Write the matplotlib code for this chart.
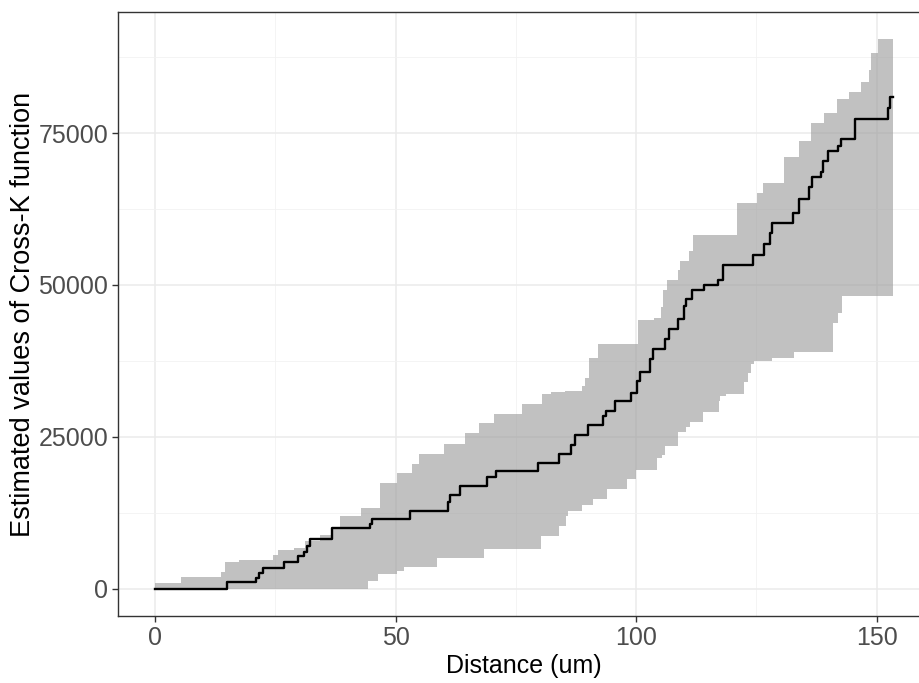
import numpy as np
import matplotlib
matplotlib.use("Agg")
import matplotlib.pyplot as plt
from matplotlib.ticker import FixedLocator

# step positions (distance) and value after each step
k_x = [0, 15.0, 21.1, 21.6, 22.4, 26.8, 29.8, 31.0, 31.6, 32.3, 36.7, 44.8, 45.2,
       53.0, 61.0, 61.3, 63.4, 69.0, 70.9, 79.6, 84.0, 86.4, 87.4, 89.9, 93.2,
       93.8, 95.7, 98.9, 100.2, 100.9, 102.8, 103.6, 106.1, 106.8, 108.7, 109.9,
       110.3, 111.7, 114.1, 117.0, 118.1, 124.3, 126.6, 127.8, 128.3, 132.6,
       133.8, 135.9, 136.6, 138.4, 138.8, 139.8, 141.9, 142.6, 145.5, 152.3, 152.8]
k_y = [0, 1040, 1760, 2580, 3400, 4330, 5310, 5970, 6960, 8170, 9900, 10690, 11510,
       12720, 14300, 15460, 16940, 18370, 19300, 20670, 22200, 23680, 25330, 26970,
       28340, 29160, 30800, 32190, 34100, 35580, 37800, 39420, 41070, 42710, 44360,
       46500, 47650, 49180, 50000, 50820, 53290, 54930, 56800, 58500, 60150, 61800,
       64100, 66070, 67710, 68640, 70450, 72040, 72860, 74010, 77250, 79060, 80970]

hi_x = [0, 5.5, 13.7, 14.6, 17.4, 24.6, 25.5, 29.0, 31.1, 34.4, 37.0, 38.5, 42.8,
        46.8, 50.3, 53.4, 54.9, 60.1, 64.5, 67.4, 70.4, 76.2, 80.5, 82.3, 85.2,
        88.8, 89.3, 90.2, 92.1, 100.4, 103.8, 105.1, 105.6, 106.5, 108.7, 109.1,
        111.0, 111.9, 120.9, 125.2, 126.3, 130.8, 133.8, 136.4, 139.0, 141.8,
        144.2, 146.7, 148.3, 148.8, 150.2]
hi_y = [940, 1920, 2680, 4330, 4770, 5590, 6410, 6690, 7780, 8800, 10200, 11890,
        13270, 17380, 19030, 20560, 22200, 23850, 25610, 27300, 28780, 30430, 32070,
        32290, 32450, 33390, 34650, 38040, 40300, 44240, 44600, 46430, 49180, 50800,
        52470, 53900, 55640, 58220, 63540, 65100, 66730, 71100, 73730, 76690, 78340,
        80590, 81800, 83440, 85360, 88110, 90410]

lo_x = [0, 44.2, 46.4, 50.4, 51.8, 58.6, 68.3, 80.2, 84.0, 85.4, 85.8, 88.7, 91.1,
        94.0, 98.1, 100.0, 104.4, 105.4, 106.1, 108.7, 110.3, 111.3, 113.9, 117.2,
        117.5, 118.6, 122.5, 123.2, 123.8, 124.4, 128.3, 132.9, 141.0, 141.9, 142.8]
lo_y = [0, 1200, 2400, 2850, 3570, 5050, 6530, 8600, 10360, 11890, 12800, 13700,
        14800, 16400, 18040, 19450, 21500, 22040, 23520, 25710, 26600, 27360, 29000,
        30800, 31630, 32070, 33930, 35480, 37010, 37390, 37950, 38870, 43700, 45340,
        48190]

x_end = 153.4


def step_xy(xs, ys, end):
    px = np.repeat(np.append(xs, end), 2)[1:-1]
    py = np.repeat(ys, 2)
    return px, py


plt.rcParams['font.family'] = ['Liberation Sans', 'DejaVu Sans']

fig = plt.figure(figsize=(9.2, 6.83), dpi=100)
ax = fig.add_axes([118 / 920, 1 - 616 / 683, (930 - 118) / 920, (616 - 12) / 683])

ux, uy = step_xy(hi_x, hi_y, x_end)
lx, ly = step_xy(lo_x, lo_y, x_end)
ax.fill(np.concatenate([ux, lx[::-1]]), np.concatenate([uy, ly[::-1]]),
        color="#999999", alpha=0.6, lw=0, zorder=2)

sx, sy = step_xy(k_x, k_y, x_end)
ax.plot(sx, sy, color="black", lw=1.7, zorder=3)

ax.set_xlim(-0.05 * x_end, 1.05 * x_end)
ymax = max(hi_y)
ax.set_ylim(-0.05 * ymax, 1.05 * ymax)

ax.xaxis.set_major_locator(FixedLocator([0, 50, 100, 150]))
ax.xaxis.set_minor_locator(FixedLocator([25, 75, 125]))
ax.yaxis.set_major_locator(FixedLocator([0, 25000, 50000, 75000]))
ax.yaxis.set_minor_locator(FixedLocator([12500, 37500, 62500, 87500]))
ax.set_yticklabels(["0", "25000", "50000", "75000"])

ax.grid(which="major", color="#EBEBEB", lw=1.1, zorder=0)
ax.grid(which="minor", color="#F2F2F2", lw=0.6, zorder=0)
ax.set_axisbelow(True)

for s in ax.spines.values():
    s.set_color("#333333")
    s.set_linewidth(1.0)

ax.tick_params(which="major", length=4, width=1, color="#333333",
               labelcolor="#4D4D4D", labelsize=18, pad=3)
ax.tick_params(which="minor", length=0)

ax.set_xlabel("Distance (um)", fontsize=18, color="black", labelpad=3)
ax.set_ylabel("Estimated values of Cross-K function", fontsize=19.5,
              color="black", labelpad=2)

fig.savefig("out.png", dpi=100)
